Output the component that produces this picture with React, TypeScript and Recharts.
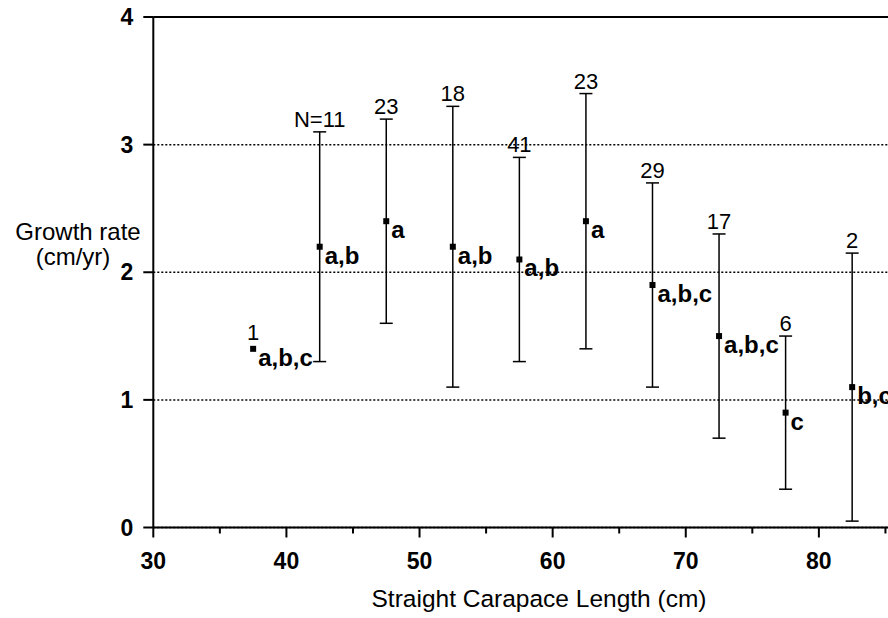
import {
  ComposedChart,
  Scatter,
  ErrorBar,
  XAxis,
  YAxis,
  CartesianGrid,
  ReferenceLine,
} from "recharts";

const sizeClass = [37.5, 42.5, 47.5, 52.5, 57.5, 62.5, 67.5, 72.5, 77.5, 82.5];
const meanRate = [1.4, 2.2, 2.4, 2.2, 2.1, 2.4, 1.9, 1.5, 0.9, 1.1];
const lowRate = [null, 1.3, 1.6, 1.1, 1.3, 1.4, 1.1, 0.7, 0.3, 0.05];
const highRate = [null, 3.1, 3.2, 3.3, 2.9, 3.4, 2.7, 2.3, 1.5, 2.15];
const sampleN = ["1", "N=11", "23", "18", "41", "23", "29", "17", "6", "2"];
const groups = ["a,b,c", "a,b", "a", "a,b", "a,b", "a", "a,b,c", "a,b,c", "c", "b,c"];

const xTicks = [30, 35, 40, 45, 50, 55, 60, 65, 70, 75, 80, 85];
const yTicks = [0, 1, 2, 3, 4];

const font = "'Liberation Sans', Arial, Helvetica, sans-serif";

const rows = sizeClass.map((x, i) => {
  const lo = lowRate[i];
  const hi = highRate[i];
  return {
    x,
    mean: meanRate[i],
    top: hi ?? meanRate[i],
    err: lo == null || hi == null ? null : [meanRate[i] - lo, hi - meanRate[i]],
    n: sampleN[i],
    group: groups[i],
    hasBar: hi != null,
  };
});

const PointShape = (props: any) => {
  const { cx, cy, payload } = props;
  return (
    <g>
      <rect x={cx - 3} y={cy - 3} width={6} height={6} fill="#000" />
      <text
        x={cx + 5}
        y={cy + 17}
        fontFamily={font}
        fontSize={24}
        fontWeight="bold"
        fill="#000"
      >
        {payload.group}
      </text>
    </g>
  );
};

const CountShape = (props: any) => {
  const { cx, cy, payload } = props;
  return (
    <text
      x={cx}
      y={cy - (payload.hasBar ? 5 : 9)}
      textAnchor="middle"
      fontFamily={font}
      fontSize={22}
      fill="#000"
    >
      {payload.n}
    </text>
  );
};

const XTick = (props: any) => {
  const { x, y, payload } = props;
  const major = payload.value % 10 === 0;
  return (
    <g>
      <line x1={x} x2={x} y1={y} y2={y + (major ? 10 : 6)} stroke="#000" strokeWidth={2} />
      {major && (
        <text
          x={x}
          y={y + 41}
          textAnchor="middle"
          fontFamily={font}
          fontSize={23}
          fontWeight="bold"
          fill="#000"
        >
          {payload.value}
        </text>
      )}
    </g>
  );
};

export default function App() {
  return (
    <div
      style={{
        position: "fixed",
        left: 0,
        top: 0,
        width: 888,
        height: 618,
        overflow: "hidden",
        background: "#fff",
      }}
    >
      <ComposedChart
        width={1000}
        height={618}
        data={rows}
        margin={{ top: 17, right: 48, bottom: 30.5, left: 0 }}
      >
        <CartesianGrid
          vertical={false}
          stroke="#000"
          strokeWidth={1.5}
          strokeDasharray="2 2"
        />
        <ReferenceLine y={4} stroke="#000" strokeWidth={2} />

        <XAxis
          type="number"
          dataKey="x"
          domain={[30, 90]}
          ticks={xTicks}
          interval={0}
          height={60}
          tickSize={0}
          tickMargin={0}
          tickLine={false}
          axisLine={{ stroke: "#000", strokeWidth: 2 }}
          tick={<XTick />}
          label={{
            content: () => (
              <text
                x={539}
                y={607}
                textAnchor="middle"
                fontFamily={font}
                fontSize={24.5}
                fill="#000"
              >
                Straight Carapace Length (cm)
              </text>
            ),
          }}
        />

        <YAxis
          type="number"
          domain={[0, 4]}
          ticks={yTicks}
          interval={0}
          width={153.3}
          tickSize={10}
          tickMargin={10}
          tickLine={{ stroke: "#000", strokeWidth: 2 }}
          axisLine={{ stroke: "#000", strokeWidth: 2 }}
          tick={{ fill: "#000", fontSize: 23, fontWeight: "bold", fontFamily: font }}
          label={{
            content: () => (
              <text textAnchor="middle" fontFamily={font} fontSize={24} fill="#000">
                <tspan x={78} y={240}>Growth rate</tspan>
                <tspan x={73} y={265}>(cm/yr)</tspan>
              </text>
            ),
          }}
        />

        <Scatter
          dataKey="top"
          shape={<CountShape />}
          isAnimationActive={false}
          legendType="none"
        />

        <Scatter
          dataKey="mean"
          shape={<PointShape />}
          isAnimationActive={false}
          legendType="none"
        >
          <ErrorBar
            dataKey="err"
            direction="y"
            width={6.5}
            stroke="#000"
            strokeWidth={1.5}
            isAnimationActive={false}
          />
        </Scatter>
      </ComposedChart>
    </div>
  );
}
